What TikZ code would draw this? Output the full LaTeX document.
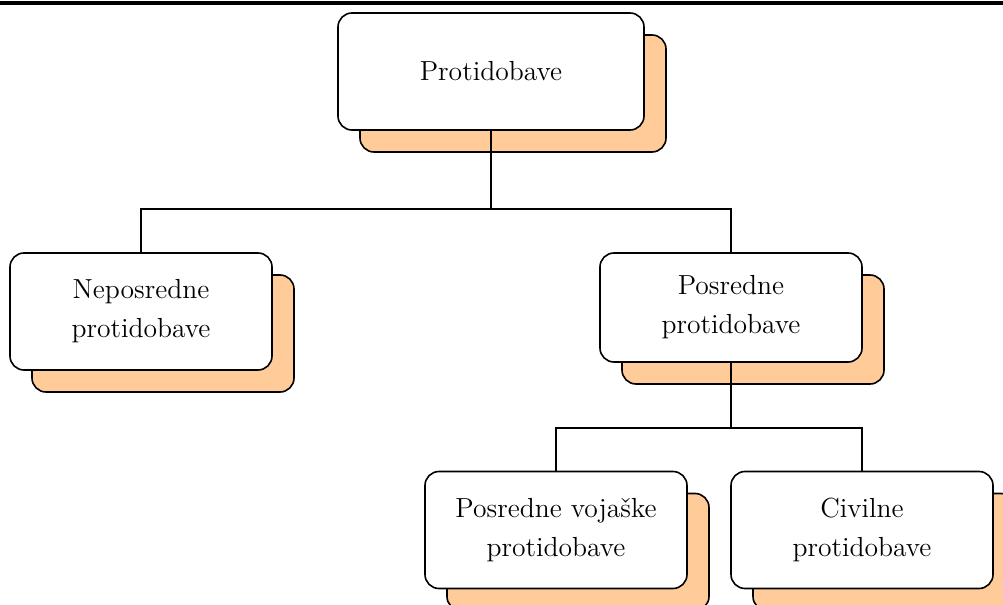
\documentclass[tikz,border=0pt]{standalone}
\usepackage{tikz}
\usetikzlibrary{shadows}
\definecolor{shadeorange}{HTML}{FFCC99}

\begin{document}
\begin{tikzpicture}[x=0.5pt,y=-0.5pt,
    box/.style={draw, line width=0.8pt, rounded corners=7pt, fill=white, align=center,
        inner sep=0pt, minimum width=131pt, minimum height=58.5pt,
        font=\fontsize{13.8}{19.5}\selectfont,
        copy shadow={shadow xshift=11pt, shadow yshift=-11pt, fill=shadeorange, draw=black, line width=0.8pt}},
    link/.style={line width=0.7pt}]
    \useasboundingbox (0,0) rectangle (1003,605);
    \clip (0,0) rectangle (1003,605);
    \draw[line width=2pt] (0,3) -- (1003,3);

    % boxes
    \node[box, minimum width=153pt] (root) at (491,71.5) {Protidobave};
    \node[box] (nep) at (141,311.5) {Neposredne\\protidobave};
    \node[box, minimum height=54.5pt] (pos) at (731,307.5) {Posredne\\protidobave};
    \node[box] (voj) at (556,530) {Posredne vojaške\\protidobave};
    \node[box] (civ) at (862,530) {Civilne\\protidobave};

    % links
    \coordinate (j1) at (491,209);
    \coordinate (j2) at (731,428);
    \draw[link] (root.south) -- (j1);
    \draw[link] (nep.north) |- (j1) -| (pos.north);
    \draw[link] (pos.south) -- (j2);
    \draw[link] (voj.north) |- (j2) -| (civ.north);
\end{tikzpicture}
\end{document}
